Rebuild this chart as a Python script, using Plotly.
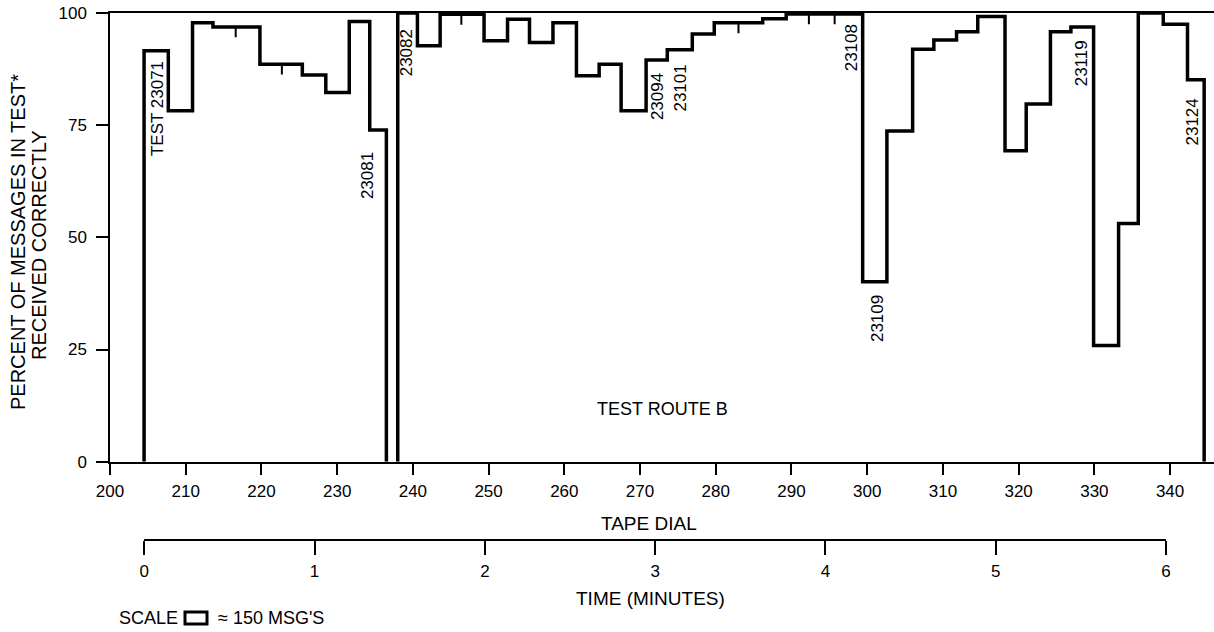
import plotly.graph_objects as go

# ---- data (tape-dial position where each test segment starts, percent received correctly) ----
seg_start = [204.5, 207.7, 210.9, 213.6, 219.8, 225.4, 228.5, 231.6, 234.3, 236.5,
             238.0, 240.6, 243.6, 249.4, 252.5, 255.4, 258.5, 261.6, 264.6, 267.5,
             270.8, 273.6, 276.9, 279.8, 286.2, 289.3, 299.4, 302.6, 306.0, 308.8,
             311.8, 314.6, 318.2, 321.0, 324.2, 326.9, 329.9, 333.2, 335.8, 339.1,
             342.3, 344.5]
pct_correct = [91.6, 78.2, 97.8, 96.9, 88.6, 86.2, 82.3, 98.1, 73.9, 0,
               100, 92.7, 99.7, 93.8, 98.6, 93.4, 97.8, 86.0, 88.6, 78.2,
               89.5, 91.8, 95.3, 97.8, 98.7, 99.8, 40.1, 73.7, 91.9, 94.0,
               95.8, 99.2, 69.3, 79.7, 95.8, 96.9, 25.9, 53.1, 100, 97.5,
               85.1, 0]

# boundaries between consecutive tests at the same level (small tick marks)
tick_dial = [216.6, 222.7, 246.4, 283.0, 292.3, 295.7]
tick_pct = [96.9, 88.6, 99.7, 97.8, 99.8, 99.8]

# test number labels
label_text = ["TEST 23071", "23081", "23082", "23094", "23101", "23108", "23109", "23119", "23124"]
label_dial = [206.2, 234.1, 239.2, 272.4, 275.3, 297.9, 301.3, 328.3, 342.9]
label_pct = [78.8, 63.7, 91.2, 81.3, 83.2, 92.2, 31.8, 88.9, 75.6]

dial_ticks = list(range(200, 341, 10))
pct_ticks = [0, 25, 50, 75, 100]
minute_ticks = [0, 1, 2, 3, 4, 5, 6]

FONT = "Liberation Sans"
FS = 17

fig = go.Figure()

# split the record into runs wherever it drops to zero (gap between runs)
runs = []
start = 0
for i, v in enumerate(pct_correct):
    if v == 0:
        runs.append((start, i))
        start = i + 1
for a, b in runs:
    xs = [seg_start[a]] + seg_start[a:b + 1]
    ys = [0] + pct_correct[a:b + 1]
    fig.add_trace(go.Scatter(x=xs, y=ys, mode="lines",
                             line=dict(color="black", width=3.5, shape="hv"),
                             hoverinfo="skip", showlegend=False))

fig.add_trace(go.Scatter(x=tick_dial, y=tick_pct, mode="markers",
                         marker=dict(size=1, color="black"),
                         error_y=dict(type="constant", value=0, valueminus=2.3,
                                      symmetric=False, width=0, thickness=2,
                                      color="black"),
                         hoverinfo="skip", showlegend=False))
fig.add_trace(go.Scatter(x=[minute_ticks[0], minute_ticks[-1]], y=[None, None],
                         xaxis="x2", yaxis="y2", mode="lines",
                         hoverinfo="skip", showlegend=False))

for t, xv, yv in zip(label_text, label_dial, label_pct):
    fig.add_annotation(x=xv, y=yv, xref="x", yref="y", text=t, textangle=-90,
                       xanchor="center", yanchor="middle",
                       showarrow=False, font=dict(family=FONT, size=FS, color="black"))

fig.add_annotation(x=273.0, y=11.7, xref="x", yref="y", text="TEST ROUTE B",
                   xanchor="center", yanchor="middle",
                   showarrow=False, font=dict(family=FONT, size=18, color="black"))

W, H = 1214, 632
ml, mr, mt, mb = 110, 0, 13, 93
pw, ph = W - ml - mr, H - mt - mb


def px(x):
    return (x - ml) / pw


def py(y):
    return (H - mb - y) / ph


def note(x, y, text, size=FS, xanchor="center", angle=0):
    fig.add_annotation(x=px(x), y=py(y), xref="paper", yref="paper", text=text,
                       xanchor=xanchor, yanchor="middle", textangle=angle,
                       showarrow=False,
                       font=dict(family=FONT, size=size, color="black"))


note(649, 523, "TAPE DIAL", size=19)
note(650, 598, "TIME (MINUTES)", size=19)
note(117, 618, "SCALE", size=18, xanchor="left")
note(216, 618, "≈ 150 MSG'S", size=18, xanchor="left")
fig.add_shape(type="rect", xref="paper", yref="paper",
              x0=px(185), x1=px(207), y0=py(624), y1=py(612),
              line=dict(color="black", width=3))
note(18, 242, "PERCENT OF MESSAGES IN TEST*", size=20, angle=-90)
note(39, 245, "RECEIVED CORRECTLY", size=20, angle=-90)

y_dom0 = (H - mb - 461.7) / ph

axis_common = dict(ticks="outside", tickwidth=1.5, tickcolor="black",
                   showline=True, linecolor="black", linewidth=1.5,
                   showgrid=False, zeroline=False, automargin=False,
                   tickfont=dict(family=FONT, size=FS, color="black"))

fig.update_layout(
    width=W, height=H,
    margin=dict(l=ml, r=mr, t=mt, b=mb, autoexpand=False),
    paper_bgcolor="white", plot_bgcolor="white",
    font=dict(family=FONT, size=FS, color="black"),
    showlegend=False,
    xaxis=dict(range=[200, 345.8], domain=[0, 1], anchor="y",
               tickvals=dial_ticks, ticklen=12, mirror=True,
               ticklabelstandoff=1, **axis_common),
    yaxis=dict(range=[0, 100], domain=[y_dom0, 1], anchor="x",
               tickvals=pct_ticks, ticklen=12,
               ticklabelstandoff=6, **axis_common),
    xaxis2=dict(range=[0, 6], domain=[px(144.3), px(1166)], anchor="y2",
                tickvals=minute_ticks, ticklen=14,
                ticklabelstandoff=2, **axis_common),
    yaxis2=dict(range=[0, 1], domain=[0, 0.02], anchor="x2", visible=False),
)

fig.write_html("out.html")
